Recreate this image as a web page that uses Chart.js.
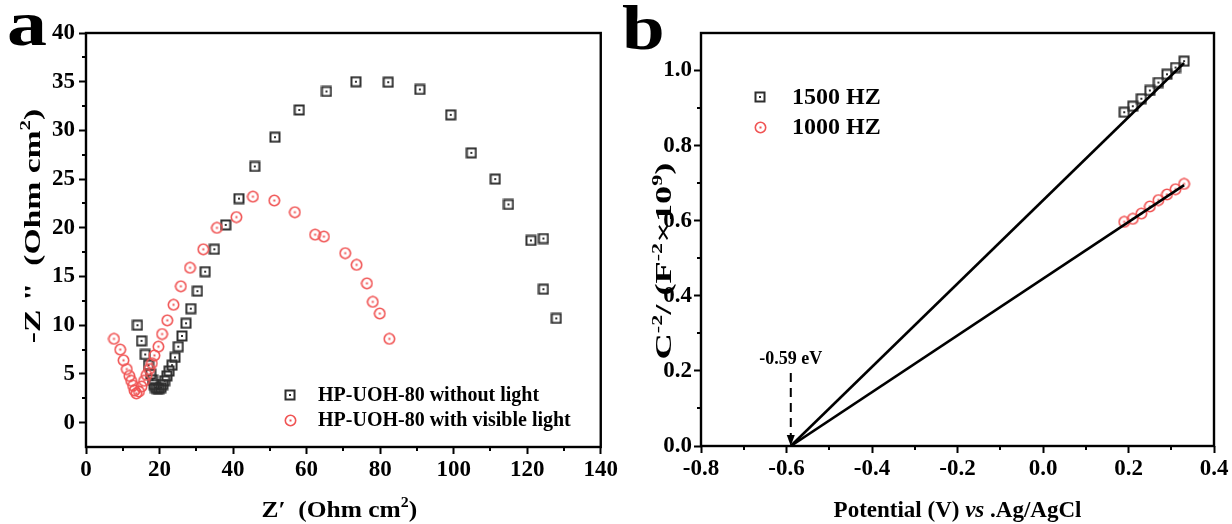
<!DOCTYPE html>
<html>
<head>
<meta charset="utf-8">
<script src="https://cdn.jsdelivr.net/npm/chart.js@4.4.1/dist/chart.umd.min.js"></script>
<style>
  html, body { margin: 0; padding: 0; background: #fff; width: 1232px; height: 524px; overflow: hidden; }
  #wa { position: absolute; left: 0; top: 0; width: 620px; height: 524px; }
  #wb { position: absolute; left: 620px; top: 0; width: 612px; height: 524px; }
</style>
</head>
<body>
<div id="wa"><canvas id="ca"></canvas></div>
<div id="wb"><canvas id="cb"></canvas></div>
<script>
// ---- Panel a: Nyquist plot of HP-UOH-80 (Z' vs -Z'') ----
const zReDark = [14.0, 15.1, 16.1, 17.0, 17.6, 18.1, 18.5, 18.9, 19.4, 19.9, 20.4, 20.9, 21.4, 22.0,
  22.6, 23.4, 24.2, 25.1, 26.1, 27.2, 28.5, 30.3, 32.4, 34.9, 38.0, 41.6, 45.9, 51.4, 58.0, 65.4,
  73.4, 82.2, 90.8, 99.2, 104.8, 111.3, 114.9, 121.0, 124.4, 124.4, 127.9];
const zImDark = [10.0, 8.4, 7.0, 5.9, 5.0, 4.4, 3.9, 3.6, 3.5, 3.5, 3.6, 3.9, 4.3, 4.8,
  5.3, 5.9, 6.7, 7.8, 8.9, 10.2, 11.7, 13.5, 15.5, 17.8, 20.3, 23.0, 26.3, 29.3, 32.1, 34.0,
  35.0, 34.95, 34.2, 31.6, 27.7, 25.0, 22.4, 18.7, 18.9, 13.7, 10.7];
const zReLight = [7.6, 9.3, 10.2, 11.1, 11.8, 12.3, 12.8, 13.2, 13.7, 14.4, 15.1, 15.8, 16.5, 17.2,
  17.9, 18.6, 19.7, 20.7, 22.1, 23.8, 25.8, 28.3, 31.9, 35.6, 40.9, 45.4, 51.2, 56.8, 62.3, 64.7,
  70.5, 73.6, 76.4, 78.0, 79.9, 82.5];
const zImLight = [8.6, 7.5, 6.4, 5.5, 4.8, 4.3, 3.8, 3.3, 3.0, 3.2, 3.7, 4.3, 4.9, 5.5,
  6.1, 6.9, 7.8, 9.1, 10.5, 12.1, 14.0, 15.9, 17.8, 20.0, 21.1, 23.2, 22.8, 21.6, 19.3, 19.1,
  17.4, 16.2, 14.3, 12.4, 11.2, 8.6];
const xTicksA = [0, 20, 40, 60, 80, 100, 120, 140];
const yTicksA = [0, 5, 10, 15, 20, 25, 30, 35, 40];

// ---- Panel b: Mott-Schottky plot ----
const potential = [0.19, 0.21, 0.23, 0.25, 0.27, 0.29, 0.31, 0.33];
const cs1500 = [0.889, 0.905, 0.925, 0.947, 0.968, 0.990, 1.008, 1.025];
const cs1000 = [0.597, 0.605, 0.619, 0.638, 0.655, 0.670, 0.684, 0.698];
const flatBand = -0.59;
const fitPotential = [flatBand, 0.33];
const fit1500 = [0, 1.02];
const fit1000 = [0, 0.695];
const xTicksB = [-0.8, -0.6, -0.4, -0.2, 0.0, 0.2, 0.4];
const yTicksB = [0.0, 0.2, 0.4, 0.6, 0.8, 1.0];

const FONT = "'Liberation Serif', 'Times New Roman', serif";
const DARK = '#2e2e2e';
const RED = '#f05454';

const pts = (xs, ys) => xs.map((x, i) => ({ x, y: ys[i] }));

// hollow marker with a centre dot
function marker(kind, color, size, lw) {
  const c = document.createElement('canvas');
  c.width = c.height = size;
  const g = c.getContext('2d');
  g.strokeStyle = color; g.fillStyle = color; g.lineWidth = lw;
  const m = size / 2;
  if (kind === 'square') {
    const h = m - lw / 2 - 0.5;
    g.strokeRect(m - h, m - h, 2 * h, 2 * h);
  } else {
    g.beginPath(); g.arc(m, m, m - lw / 2 - 0.5, 0, Math.PI * 2); g.stroke();
  }
  g.fillRect(m - 1, m - 1, 2, 2);
  return c;
}
const sqMark = marker('square', DARK, 12, 2);
const ciMark = marker('circle', RED, 13, 1.6);

function fontFor(style, size) {
  const s = style === 'sup' ? Math.round(size * 0.62) : size;
  return (style === 'it' ? 'italic ' : '') + 'bold ' + s + 'px ' + FONT;
}
// text with superscripts / italic runs, centred on (x, y), stretched along the reading direction
function richText(ctx, parts, x, y, size, stretch, angle) {
  ctx.save();
  ctx.translate(x, y);
  if (angle) ctx.rotate(angle);
  ctx.scale(stretch, 1);
  const w = parts.map(p => { ctx.font = fontFor(p[1], size); return ctx.measureText(p[0]).width; });
  let cx = -w.reduce((a, b) => a + b, 0) / 2;
  ctx.textAlign = 'left';
  ctx.textBaseline = 'alphabetic';
  parts.forEach((p, i) => {
    ctx.font = fontFor(p[1], size);
    ctx.fillText(p[0], cx, p[1] === 'sup' ? -size * 0.4 : 0);
    cx += w[i];
  });
  ctx.restore();
}

// frame, minor ticks, titles, panel letter and legend
const decor = {
  id: 'decor',
  afterDraw(chart, args, o) {
    const ctx = chart.ctx, a = chart.chartArea;
    const xs = chart.scales.x, ys = chart.scales.y;
    ctx.save();
    ctx.strokeStyle = '#000';
    ctx.lineWidth = 2;
    ctx.beginPath();
    o.minorX.forEach(v => { const p = Math.round(xs.getPixelForValue(v)); ctx.moveTo(p, a.bottom); ctx.lineTo(p, a.bottom + 4); });
    o.minorY.forEach(v => { const p = Math.round(ys.getPixelForValue(v)); ctx.moveTo(a.left, p); ctx.lineTo(a.left - 4, p); });
    ctx.stroke();
    ctx.lineWidth = 2.4;
    ctx.strokeRect(a.left, a.top, a.right - a.left, a.bottom - a.top);

    ctx.fillStyle = '#000';
    const xt = o.xTitle, yt = o.yTitle;
    richText(ctx, xt.parts, (a.left + a.right) / 2 + xt.dx, xt.y, xt.size, xt.stretch, 0);
    richText(ctx, yt.parts, yt.x, yt.y, yt.size, yt.stretch, -Math.PI / 2);

    ctx.save();
    ctx.translate(o.letter.x, o.letter.y);
    ctx.scale(o.letter.stretch, 1);
    ctx.font = 'bold ' + o.letter.size + 'px ' + FONT;
    ctx.textAlign = 'left'; ctx.textBaseline = 'alphabetic';
    ctx.fillText(o.letter.text, 0, 0);
    ctx.restore();

    const lg = o.legend;
    ctx.font = 'bold ' + lg.size + 'px ' + FONT;
    ctx.textAlign = 'left';
    ctx.textBaseline = 'middle';
    chart.data.datasets.filter(d => d.label).sort((p, q) => p.legendRank - q.legendRank).forEach((d, i) => {
      const y = lg.y + i * lg.gap;
      const img = d.pointStyle;
      ctx.drawImage(img, Math.round(lg.x - img.width / 2), Math.round(y - img.height / 2));
      ctx.fillText(d.label, lg.textX, y + 1);
    });
    ctx.restore();
  }
};

// dashed arrow marking the flat-band potential
const onsetMark = {
  id: 'onsetMark',
  afterDatasetsDraw(chart, args, o) {
    if (typeof o.value !== 'number') return;
    const ctx = chart.ctx;
    const x = chart.scales.x.getPixelForValue(o.value);
    const y0 = chart.scales.y.getPixelForValue(0);
    ctx.save();
    ctx.strokeStyle = '#000'; ctx.fillStyle = '#000';
    ctx.lineWidth = 2;
    ctx.setLineDash([9, 6]);
    ctx.beginPath(); ctx.moveTo(x, y0 - 73); ctx.lineTo(x, y0 - 10); ctx.stroke();
    ctx.setLineDash([]);
    ctx.beginPath(); ctx.moveTo(x - 4, y0 - 11); ctx.lineTo(x + 4, y0 - 11); ctx.lineTo(x, y0); ctx.closePath(); ctx.fill();
    ctx.font = 'bold 18px ' + FONT;
    ctx.textAlign = 'center'; ctx.textBaseline = 'alphabetic';
    ctx.fillText(o.value.toFixed(2) + ' eV', x, y0 - 82);
    ctx.restore();
  }
};

function axis(min, max, ticks, fmt, fit, tickSize, pad) {
  return {
    type: 'linear', min, max,
    afterFit: fit,
    afterBuildTicks: s => { s.ticks = ticks.map(v => ({ value: v })); },
    grid: { drawOnChartArea: false, drawTicks: true, tickLength: 7, tickWidth: 2, tickColor: '#000' },
    border: { display: false },
    ticks: { color: '#000', autoSkip: false, maxRotation: 0, padding: pad,
      font: { family: FONT, weight: 'bold', size: tickSize }, callback: fmt }
  };
}

const common = {
  responsive: true, maintainAspectRatio: false, animation: false, devicePixelRatio: 1,
  events: [],
};

new Chart(document.getElementById('ca'), {
  type: 'scatter',
  data: { datasets: [
    { label: 'HP-UOH-80 with visible light', legendRank: 1, data: pts(zReLight, zImLight),
      pointStyle: ciMark, pointRadius: 6, order: 0 },
    { label: 'HP-UOH-80 without light', legendRank: 0, data: pts(zReDark, zImDark),
      pointStyle: sqMark, pointRadius: 6, order: 1 }
  ] },
  options: Object.assign({}, common, {
    layout: { padding: { top: 33, right: 18, left: 0, bottom: 0 } },
    scales: {
      x: axis(0, 140, xTicksA, v => String(v), s => { s.height = 77; }, 23, 2),
      y: axis(-2.5, 40, yTicksA, v => String(v), s => { s.width = 86; }, 23, 4)
    },
    plugins: {
      legend: { display: false }, tooltip: { enabled: false },
      decor: {
        minorX: [10, 30, 50, 70, 90, 110, 130],
        minorY: [2.5, 7.5, 12.5, 17.5, 22.5, 27.5, 32.5, 37.5],
        xTitle: { parts: [['Z\u2032  (Ohm cm', ''], ['2', 'sup'], [')', '']], dx: -4, y: 517, size: 24, stretch: 1.06 },
        yTitle: { parts: [['-Z "  (Ohm cm', ''], ['2', 'sup'], [')', '']], x: 40, y: 226, size: 24, stretch: 1.4 },
        letter: { text: 'a', x: 7, y: 45, size: 64, stretch: 1.25 },
        legend: { x: 290, y: 395, gap: 25, textX: 318, size: 20 }
      }
    }
  }),
  plugins: [decor]
});

new Chart(document.getElementById('cb'), {
  type: 'scatter',
  data: { datasets: [
    { data: pts(fitPotential, fit1500), showLine: true, borderColor: '#000', borderWidth: 2.6,
      pointRadius: 0, order: 0 },
    { data: pts(fitPotential, fit1000), showLine: true, borderColor: '#000', borderWidth: 2.6,
      pointRadius: 0, order: 0 },
    { label: '1500 HZ', legendRank: 0, data: pts(potential, cs1500), pointStyle: sqMark, pointRadius: 6, order: 1 },
    { label: '1000 HZ', legendRank: 1, data: pts(potential, cs1000), pointStyle: ciMark, pointRadius: 6, order: 1 }
  ] },
  options: Object.assign({}, common, {
    layout: { padding: { top: 33, right: 18, left: 0, bottom: 0 } },
    scales: {
      x: axis(-0.8, 0.4, xTicksB, v => v.toFixed(1), s => { s.height = 78; }, 23, 2),
      y: axis(0, 1.1, yTicksB, v => v.toFixed(1), s => { s.width = 81; }, 23, 2)
    },
    plugins: {
      legend: { display: false }, tooltip: { enabled: false },
      onsetMark: { value: flatBand },
      decor: {
        minorX: [-0.7, -0.5, -0.3, -0.1, 0.1, 0.3],
        minorY: [0.1, 0.3, 0.5, 0.7, 0.9],
        xTitle: { parts: [['Potential (V) ', ''], ['vs', 'it'], [' .Ag/AgCl', '']], dx: 0, y: 517, size: 23, stretch: 1.0 },
        yTitle: { parts: [['C', ''], ['-2', 'sup'], ['/ (F', ''], ['-2', 'sup'], ['\u00d710', ''], ['9', 'sup'], [')', '']],
          x: 51, y: 261, size: 23, stretch: 1.58 },
        letter: { text: 'b', x: 2, y: 49, size: 64, stretch: 1.2 },
        legend: { x: 140, y: 97, gap: 30, textX: 172, size: 24 }
      }
    }
  }),
  plugins: [decor, onsetMark]
});
</script>
</body>
</html>
